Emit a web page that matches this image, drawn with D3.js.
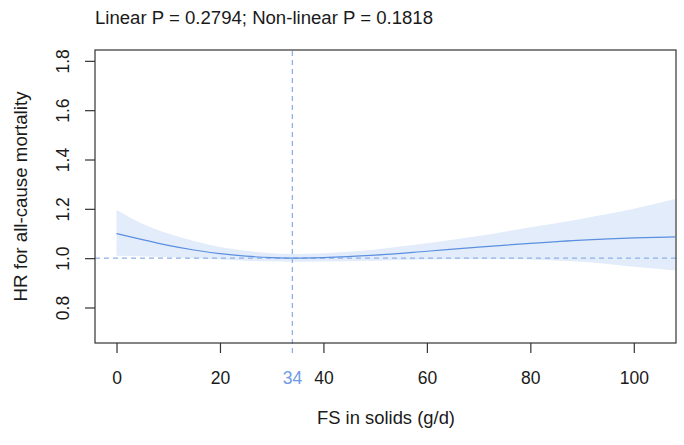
<!DOCTYPE html>
<html><head><meta charset="utf-8">
<script src="https://cdn.jsdelivr.net/npm/d3@7"></script>
<style>body{margin:0;background:#fff}svg{display:block}text{font-family:"Liberation Sans",Arial,sans-serif}</style>
</head><body>
<svg id="c" width="684" height="445"></svg>
<script>
const xs    = [0, 5, 10, 15, 20, 25, 30, 34, 40, 50, 60, 70, 80, 90, 100, 108];
const hr    = [1.100, 1.075, 1.052, 1.033, 1.018, 1.008, 1.002, 1.000, 1.002, 1.012, 1.028, 1.045, 1.060, 1.073, 1.082, 1.086];
const upper = [1.195, 1.140, 1.100, 1.070, 1.045, 1.030, 1.020, 1.017, 1.020, 1.035, 1.060, 1.090, 1.125, 1.160, 1.200, 1.240];
const lower = [1.010, 1.008, 1.004, 1.000, 0.995, 0.990, 0.987, 0.985, 0.986, 0.990, 0.995, 0.997, 0.995, 0.985, 0.965, 0.950];
const xTicks = [0, 20, 40, 60, 80, 100];
const yTicks = [0.8, 1.0, 1.2, 1.4, 1.6, 1.8];
const refX = 34, refY = 1.0;
const title = "Linear P = 0.2794; Non-linear P = 0.1818";
const xLabel = "FS in solids (g/d)";
const yLabel = "HR for all-cause mortality";

const L = 95, R = 676, T = 50, B = 343;
const x = d3.scaleLinear().domain([-4.16, 108.16]).range([L, R]);
const y = d3.scaleLinear().domain([0.656, 1.844]).range([B, T]);
const svg = d3.select("#c");
const blue = "#5b8fe0", band = "#e3ecfa", dash = "#8fb0e6", ink = "#1a1a1a";
const FS = 17.5;

svg.append("defs").append("clipPath").attr("id","clip").append("rect")
  .attr("x",L).attr("y",T).attr("width",R-L).attr("height",B-T);
const g = svg.append("g").attr("clip-path","url(#clip)");
const pts = xs.map((v,i)=>({x:v,h:hr[i],u:upper[i],l:lower[i]}));
g.append("path").datum(pts).attr("fill",band)
  .attr("d", d3.area().curve(d3.curveMonotoneX).x(d=>x(d.x)).y0(d=>y(d.l)).y1(d=>y(d.u)));
g.append("line").attr("x1",L).attr("x2",R).attr("y1",y(refY)).attr("y2",y(refY))
  .attr("stroke",dash).attr("stroke-width",1.3).attr("stroke-dasharray","5,4");
g.append("path").datum(pts).attr("fill","none").attr("stroke",blue).attr("stroke-width",1.2)
  .attr("d", d3.line().curve(d3.curveMonotoneX).x(d=>x(d.x)).y(d=>y(d.h)));
svg.append("line").attr("x1",x(refX)).attr("x2",x(refX)).attr("y1",T+1).attr("y2",B+12)
  .attr("stroke",dash).attr("stroke-width",1.3).attr("stroke-dasharray","5,4");

svg.append("rect").attr("x",L).attr("y",T).attr("width",R-L).attr("height",B-T)
  .attr("fill","none").attr("stroke","#333").attr("stroke-width",1.2);

const xa = svg.append("g").attr("transform",`translate(0,${B})`)
  .call(d3.axisBottom(x).tickValues(xTicks).tickSize(10).tickPadding(19).tickFormat(d3.format("d")));
xa.select(".domain").remove();
xa.selectAll("line").attr("stroke","#333").attr("stroke-width",1.2);
xa.selectAll("text").attr("font-size",FS).attr("fill",ink).attr("font-family","Liberation Sans, Arial, sans-serif");
svg.append("text").attr("x",x(refX)).attr("y",384).attr("text-anchor","middle")
  .attr("font-size",FS).attr("fill","#6e9be6").text(refX);

const ya = svg.append("g").attr("transform",`translate(${L},0)`)
  .call(d3.axisLeft(y).tickValues(yTicks).tickSize(10).tickFormat(d3.format(".1f")));
ya.select(".domain").remove();
ya.selectAll("line").attr("stroke","#333").attr("stroke-width",1.2);
ya.selectAll("text").attr("font-size",FS).attr("fill",ink).attr("font-family","Liberation Sans, Arial, sans-serif")
  .attr("text-anchor","middle").attr("x",0).attr("dy",0)
  .attr("transform",`translate(${64-L},0) rotate(-90)`).attr("dominant-baseline","middle");

svg.append("text").attr("x",95).attr("y",24).attr("font-size",FS).attr("fill",ink)
  .attr("textLength",338).attr("lengthAdjust","spacingAndGlyphs").text(title);
svg.append("text").attr("x",386).attr("y",424).attr("text-anchor","middle").attr("font-size",FS).attr("fill",ink)
  .attr("textLength",138).attr("lengthAdjust","spacingAndGlyphs").text(xLabel);
svg.append("text").attr("transform",`translate(27,${(T+B)/2}) rotate(-90)`).attr("text-anchor","middle")
  .attr("font-size",FS).attr("fill",ink)
  .attr("textLength",210).attr("lengthAdjust","spacingAndGlyphs").text(yLabel);
</script>
</body></html>
